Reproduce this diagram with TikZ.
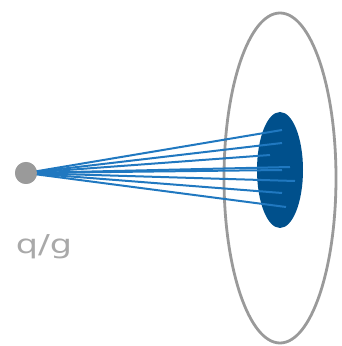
\documentclass[tikz,border=0pt]{standalone}
\usepackage{fontspec}
\setmainfont{DejaVu Sans}
\begin{document}
\begin{tikzpicture}[x=1pt,y=1pt,
  ray/.style={draw=rayblue,line width=2pt},
  ring/.style={draw=ringgray,line width=2.8pt}]
\definecolor{rayblue}{HTML}{2078C0}
\definecolor{ringgray}{HTML}{9A9A9A}
\definecolor{spotblue}{HTML}{00508C}
\useasboundingbox (0,0) rectangle (341,346);
\draw[ring] (280,168) ellipse [x radius=56, y radius=165];
\fill[spotblue] (280,176) ellipse [x radius=23, y radius=58];
\node[circle,fill=ringgray,minimum size=22pt,inner sep=0pt] (src) at (26,173) {};
\foreach \i/\x/\y in {1/282/216,2/282/203,3/270/191,4/290/179,5/282/176,6/295/165,7/282/153,8/286/139}{
  \coordinate (e\i) at (\x,\y);
  \draw[ray] (src.center) -- (e\i);
}
\node[circle,fill=ringgray,minimum size=22pt,inner sep=0pt] at (src) {};
\node[text=ringgray!85,font=\fontsize{26}{26}\selectfont\addfontfeature{FakeStretch=1.35}] (lbl) at (44,99) {q/g};
\end{tikzpicture}
\end{document}
